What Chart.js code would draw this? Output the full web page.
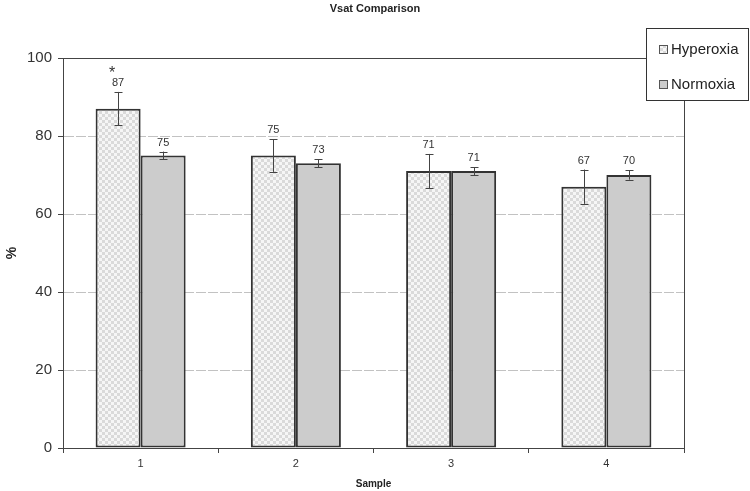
<!DOCTYPE html>
<html>
<head>
<meta charset="utf-8">
<script src="https://cdn.jsdelivr.net/npm/chart.js@4/dist/chart.umd.min.js"></script>
<style>
html,body{margin:0;padding:0;background:#fff;}
#wrap{width:750px;height:491px;position:relative;}
</style>
</head>
<body>
<div id="wrap"><canvas id="c" width="750" height="491"></canvas></div>
<script>
const categories = ['1', '2', '3', '4'];
const hyperoxia = [87, 75, 71, 67];
const normoxia = [75, 73, 71, 70];
const hyperoxiaErr = [4.3, 4.2, 4.4, 4.4];
const normoxiaErr = [1.0, 1.0, 1.0, 1.2];
const seriesNames = ['Hyperoxia', 'Normoxia'];
const yTicks = [0, 20, 40, 60, 80, 100];
const significance = ['*', '', '', ''];

const FONT = "'Liberation Sans', Arial, sans-serif";

function makePattern() {
  const pc = document.createElement('canvas');
  pc.width = 6; pc.height = 6;
  const p = pc.getContext('2d');
  p.fillStyle = '#f6f6f6';
  p.fillRect(0, 0, 6, 6);
  p.fillStyle = '#dadada';
  p.fillRect(0, 0, 3, 3);
  p.fillRect(3, 3, 3, 3);
  return document.getElementById('c').getContext('2d').createPattern(pc, 'repeat');
}
const hyperFill = makePattern();
const normoFill = '#cccccc';
const errs = [hyperoxiaErr, normoxiaErr];

const overlay = {
  id: 'overlay',
  beforeDatasetsDraw(chart) {
    const {ctx, chartArea: a} = chart;
    ctx.save();
    ctx.strokeStyle = '#444';
    ctx.lineWidth = 1;
    ctx.strokeRect(a.left + 0.5, a.top + 0.5, a.right - a.left, a.bottom - a.top);
    ctx.restore();
  },
  afterDatasetsDraw(chart) {
    const {ctx} = chart;
    const y = chart.scales.y;
    ctx.save();
    chart.data.datasets.forEach((ds, di) => {
      const meta = chart.getDatasetMeta(di);
      meta.data.forEach((bar, i) => {
        const v = ds.data[i], e = errs[di][i];
        const yt = y.getPixelForValue(v + e), yb = y.getPixelForValue(v - e);
        const x = Math.round(bar.x) + 0.5;
        ctx.strokeStyle = '#444';
        ctx.lineWidth = 1;
        ctx.beginPath();
        ctx.moveTo(x, yt); ctx.lineTo(x, yb);
        ctx.moveTo(x - 4, Math.round(yt) + 0.5); ctx.lineTo(x + 4, Math.round(yt) + 0.5);
        ctx.moveTo(x - 4, Math.round(yb) + 0.5); ctx.lineTo(x + 4, Math.round(yb) + 0.5);
        ctx.stroke();
        ctx.fillStyle = '#333';
        ctx.font = '11px ' + FONT;
        ctx.textAlign = 'center';
        ctx.textBaseline = 'middle';
        ctx.fillText(String(v), bar.x, yt - 9);
        if (di === 0 && significance[i]) {
          ctx.font = '16px ' + FONT;
          ctx.fillText(significance[i], bar.x - 6, yt - 18);
        }
      });
    });
    ctx.restore();
  },
  afterDraw(chart) {
    const {ctx} = chart;
    ctx.save();
    const lx = 646, ly = 28, lw = 102, lh = 72;
    ctx.fillStyle = '#fff';
    ctx.fillRect(lx, ly, lw, lh);
    ctx.strokeStyle = '#333';
    ctx.lineWidth = 1;
    ctx.strokeRect(lx + 0.5, ly + 0.5, lw, lh);
    const fills = [hyperFill, normoFill];
    const rows = [49, 84];
    seriesNames.forEach((n, i) => {
      ctx.fillStyle = fills[i];
      ctx.fillRect(659, rows[i] - 4, 9, 9);
      ctx.strokeStyle = '#555';
      ctx.strokeRect(659.5, rows[i] - 3.5, 8, 8);
      ctx.fillStyle = '#222';
      ctx.font = '15px ' + FONT;
      ctx.textAlign = 'left';
      ctx.textBaseline = 'middle';
      ctx.fillText(n, 671, rows[i] + 1);
    });
    ctx.restore();
  }
};

new Chart(document.getElementById('c'), {
  type: 'bar',
  data: {
    labels: categories,
    datasets: [
      {label: seriesNames[0], data: hyperoxia, backgroundColor: hyperFill, borderColor: '#333', borderWidth: 2, borderSkipped: false},
      {label: seriesNames[1], data: normoxia, backgroundColor: normoFill, borderColor: '#333', borderWidth: 2, borderSkipped: false}
    ]
  },
  options: {
    responsive: false,
    animation: false,
    events: [],
    layout: {padding: 0},
    datasets: {bar: {categoryPercentage: 0.58, barPercentage: 1}},
    plugins: {
      legend: {display: false},
      tooltip: {enabled: false},
      title: {
        display: true,
        text: 'Vsat Comparison',
        color: '#222',
        font: {family: FONT, size: 11, weight: 'bold'},
        padding: {top: 2, bottom: 42.8}
      }
    },
    scales: {
      x: {
        grid: {offset: true, drawOnChartArea: false, tickLength: 5, tickColor: '#444'},
        border: {color: '#444'},
        ticks: {color: '#333', font: {family: FONT, size: 11}, padding: 4},
        title: {display: true, text: 'Sample', color: '#222', font: {family: FONT, size: 10, weight: 'bold'}, padding: {top: 0, bottom: 1}},
        afterFit(s) { s.height = 43; }
      },
      y: {
        min: 0, max: 100,
        afterBuildTicks(s) { s.ticks = yTicks.map(v => ({value: v})); },
        grid: {color: '#c2c2c2', tickColor: '#444', tickLength: 5},
        border: {color: '#444', dash: [10, 2]},
        ticks: {color: '#333', font: {family: FONT, size: 15}, padding: 6},
        title: {display: true, text: '%', color: '#222', font: {family: FONT, size: 14, weight: 'bold'}, padding: {top: 4, bottom: 0}},
        afterFit(s) { s.width = 63; }
      },
      y2: {
        position: 'right',
        display: true,
        grid: {display: false, drawTicks: false},
        border: {display: false},
        ticks: {display: false},
        afterFit(s) { s.width = 66; }
      }
    }
  },
  plugins: [overlay]
});
</script>
</body>
</html>
